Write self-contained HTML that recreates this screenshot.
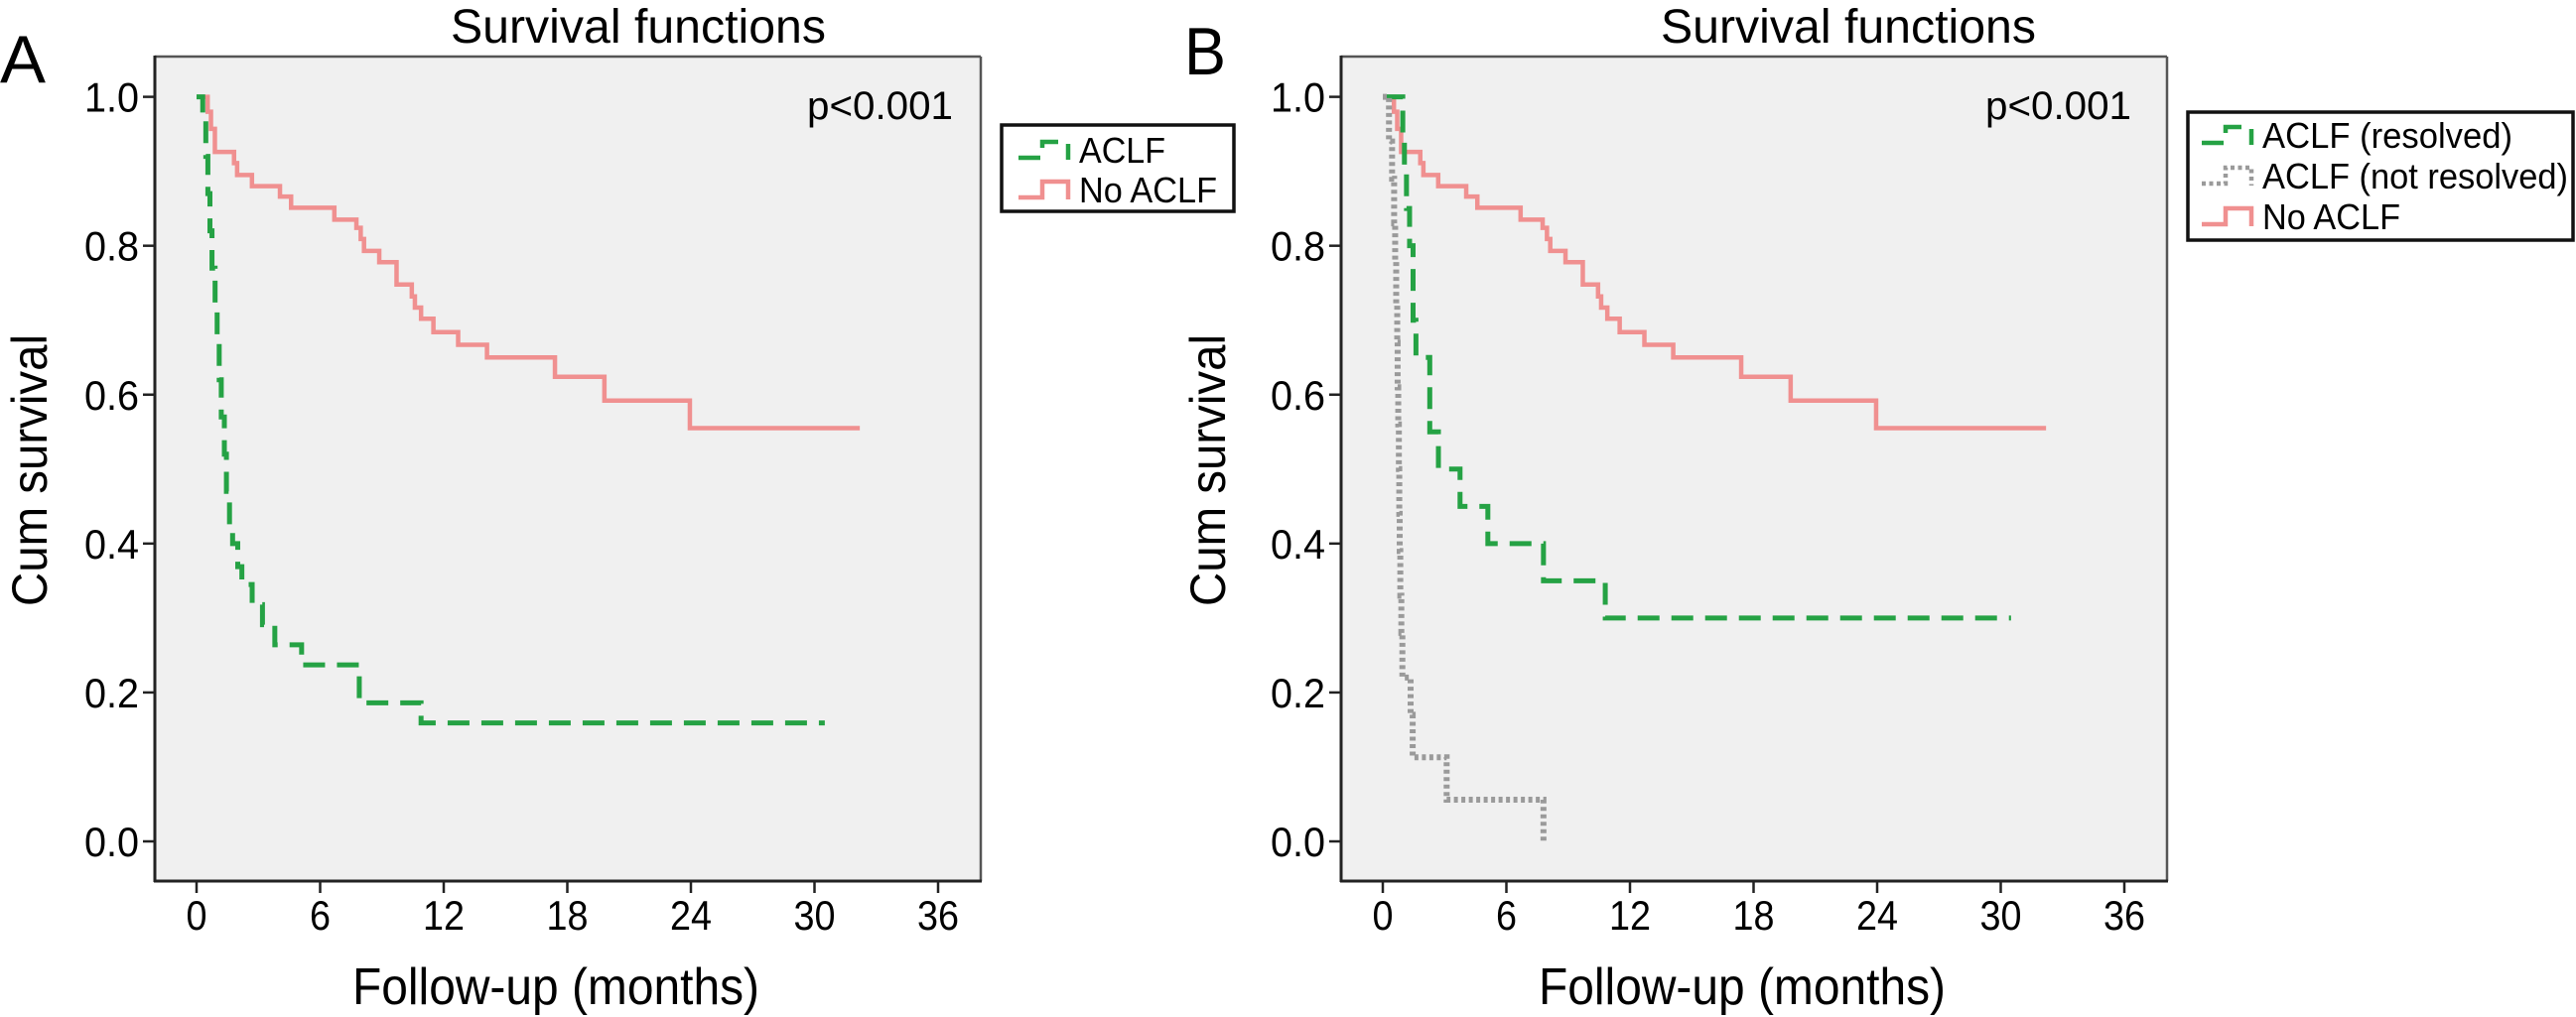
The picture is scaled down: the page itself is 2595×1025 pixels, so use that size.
<!DOCTYPE html>
<html><head><meta charset="utf-8"><style>
html,body{margin:0;padding:0;background:#fff;}
svg{display:block;}
text{font-family:"Liberation Sans Narrow","Liberation Sans",sans-serif;fill:#000;}
</style></head><body>
<svg id="chart" width="2595" height="1025" viewBox="0 0 2595 1025" xmlns="http://www.w3.org/2000/svg"></svg>
<script>
const xTicks=[0,6,12,18,24,30,36];
const yTicks=[0,0.2,0.4,0.6,0.8,1.0];
const yTickLabels=["0.0","0.2","0.4","0.6","0.8","1.0"];
const noAclfTimes=[0.54,0.7,0.89,1.82,1.97,2.69,4.05,4.59,6.69,7.76,7.97,8.13,8.87,9.71,10.45,10.6,10.9,11.5,12.7,14.1,17.4,19.8,23.95];
const noAclfSurv=[0.98,0.957,0.926,0.911,0.895,0.88,0.866,0.851,0.835,0.824,0.809,0.793,0.778,0.748,0.732,0.717,0.702,0.684,0.667,0.65,0.624,0.592,0.555];
const noAclfEnd=32.2;
const aclfTimes=[0.3,0.45,0.55,0.65,0.75,0.9,1.0,1.1,1.2,1.35,1.45,1.6,1.75,2.0,2.2,2.7,3.2,3.8,5.1,7.9,10.9];
const aclfSurv=[0.97,0.92,0.87,0.82,0.77,0.72,0.67,0.62,0.57,0.52,0.47,0.42,0.40,0.369,0.345,0.318,0.291,0.264,0.237,0.186,0.159];
const aclfEnd=30.5;
const resolvedTimes=[0.97,1.05,1.15,1.3,1.47,1.61,2.28,2.7,3.75,5.1,7.8,10.8];
const resolvedSurv=[0.95,0.9,0.85,0.8,0.7,0.65,0.55,0.5,0.45,0.4,0.35,0.3];
const resolvedEnd=30.5;
const notResolvedTimes=[0.3,0.45,0.55,0.6,0.65,0.7,0.72,0.75,0.78,0.8,0.82,0.85,0.9,0.95,1.35,1.45,3.1,7.8];
const notResolvedSurv=[0.94,0.89,0.83,0.78,0.72,0.67,0.61,0.56,0.5,0.44,0.39,0.33,0.28,0.22,0.17,0.113,0.056,0.0];
const notResolvedEnd=7.8;

const NS="http://www.w3.org/2000/svg";
const svg=document.getElementById('chart');
function mk(tag,attrs,parent,txt){const e=document.createElementNS(NS,tag);for(const k in attrs)e.setAttribute(k,attrs[k]);if(txt!==undefined)e.textContent=txt;(parent||svg).appendChild(e);return e;}

const COL={green:"#25a244",pink:"#f09090",grey:"#9a9a9a"};
const STY={
 green:{stroke:COL.green,"stroke-width":5,"stroke-dasharray":"22 12",fill:"none"},
 pink:{stroke:COL.pink,"stroke-width":4.5,fill:"none"},
 grey:{stroke:COL.grey,"stroke-width":6,"stroke-dasharray":"4 3.5",fill:"none"}
};

function panel(off,label,series,legend){
 const L=156+off,R=988+off,T=57,B=888;
 const x0=198+off, xs=124.5/6;
 const X=t=>x0+t*xs;
 const Y=v=>848-v*750.4;
 const g=mk('g',{});
 
 
 const bg=mk('rect',{x:L,y:T,width:R-L,height:B-T,fill:"#f0f0f0"},g);
 
 
 mk('line',{x1:L,y1:T,x2:R,y2:T,stroke:"#555","stroke-width":2.5},g);
 mk('line',{x1:R,y1:T,x2:R,y2:B,stroke:"#555","stroke-width":2.5},g);
 mk('line',{x1:L,y1:T-1,x2:L,y2:B+1,stroke:"#222","stroke-width":3},g);
 mk('line',{x1:L-1,y1:B,x2:R+1,y2:B,stroke:"#222","stroke-width":3},g);
 yTicks.forEach((v,i)=>{
  mk('line',{x1:L-12,y1:Y(v),x2:L,y2:Y(v),stroke:"#222","stroke-width":2.5},g);
  const t=mk('text',{x:L-16,y:Y(v)+15,"font-size":42,"text-anchor":"end",textLength:55,lengthAdjust:"spacingAndGlyphs"},g,yTickLabels[i]);
  
  
 });
 xTicks.forEach(v=>{
  mk('line',{x1:X(v),y1:B,x2:X(v),y2:B+12,stroke:"#222","stroke-width":2.5},g);
  const s=String(v);
  const t=mk('text',{x:X(v),y:937,"font-size":42,"text-anchor":"middle",textLength:s.length*21,lengthAdjust:"spacingAndGlyphs"},g,s);
  
  
 });
 const xt=mk('text',{x:X(0)+(560-198),y:1012,"font-size":52,"text-anchor":"middle",textLength:410,lengthAdjust:"spacingAndGlyphs"},g,"Follow-up (months)");
 
 
 const yt=mk('text',{x:0,y:0,"font-size":50,"text-anchor":"middle",textLength:274,lengthAdjust:"spacingAndGlyphs",transform:`translate(${off?1234:47},474) rotate(-90)`},g,"Cum survival");
 
 
 const ttl=mk('text',{x:off?1673:454,y:43,"font-size":48,textLength:378,lengthAdjust:"spacingAndGlyphs"},g,"Survival functions");
 
 
 const pl=mk('text',{x:off?1193:0,y:off?75:83,"font-size":68,textLength:off?42:46,lengthAdjust:"spacingAndGlyphs"},g,label);
 
 
 const pv=mk('text',{x:813+(off?1187:0),y:120,"font-size":40,textLength:147,lengthAdjust:"spacingAndGlyphs"},g,"p<0.001");
 
 
 series.forEach(s=>{
  let d=`M${X(0)},${Y(1)}`;
  s.times.forEach((t,i)=>{d+=` H${X(t)} V${Y(s.surv[i])}`;});
  d+=` H${X(s.end)}`;
  const p=mk('path',Object.assign({d:d},STY[s.style]),g);
  
  
 });
 const lg=mk('g',{},g);
 
 
 mk('rect',{x:legend.x,y:legend.y,width:legend.w,height:legend.h,fill:"#fff",stroke:"#111","stroke-width":3.5},lg);
 legend.items.forEach((it,i)=>{
  const cy=legend.cy0+i*legend.dy;
  const sx=legend.sx;
  mk('path',Object.assign({d:`M${sx},${cy+8} H${sx+24} V${cy-8} H${sx+50} V${cy+10}`},STY[it.style],{"stroke-width":4.5}),lg);
  const t=mk('text',{x:legend.tx,y:cy+13,"font-size":36,textLength:it.w,lengthAdjust:"spacingAndGlyphs"},lg,it.label);
  
  
 });
}

panel(0,"A",[
 {name:"no-aclf-curve",style:"pink",times:noAclfTimes,surv:noAclfSurv,end:noAclfEnd},
 {name:"aclf-curve",style:"green",times:aclfTimes,surv:aclfSurv,end:aclfEnd}
],{x:1009,y:126,w:234,h:87,sx:1026,tx:1087,cy0:151,dy:40,items:[
 {label:"ACLF",style:"green",w:87},{label:"No ACLF",style:"pink",w:139}]});

panel(1195,"B",[
 {name:"no-aclf-curve",style:"pink",times:noAclfTimes,surv:noAclfSurv,end:noAclfEnd},
 {name:"aclf-resolved-curve",style:"green",times:resolvedTimes,surv:resolvedSurv,end:resolvedEnd},
 {name:"aclf-not-resolved-curve",style:"grey",times:notResolvedTimes,surv:notResolvedSurv,end:notResolvedEnd}
],{x:2204,y:113,w:388,h:129,sx:2218,tx:2279,cy0:136,dy:41,items:[
 {label:"ACLF (resolved)",style:"green",w:252},{label:"ACLF (not resolved)",style:"grey",w:308},{label:"No ACLF",style:"pink",w:139}]});
</script>
</body></html>
